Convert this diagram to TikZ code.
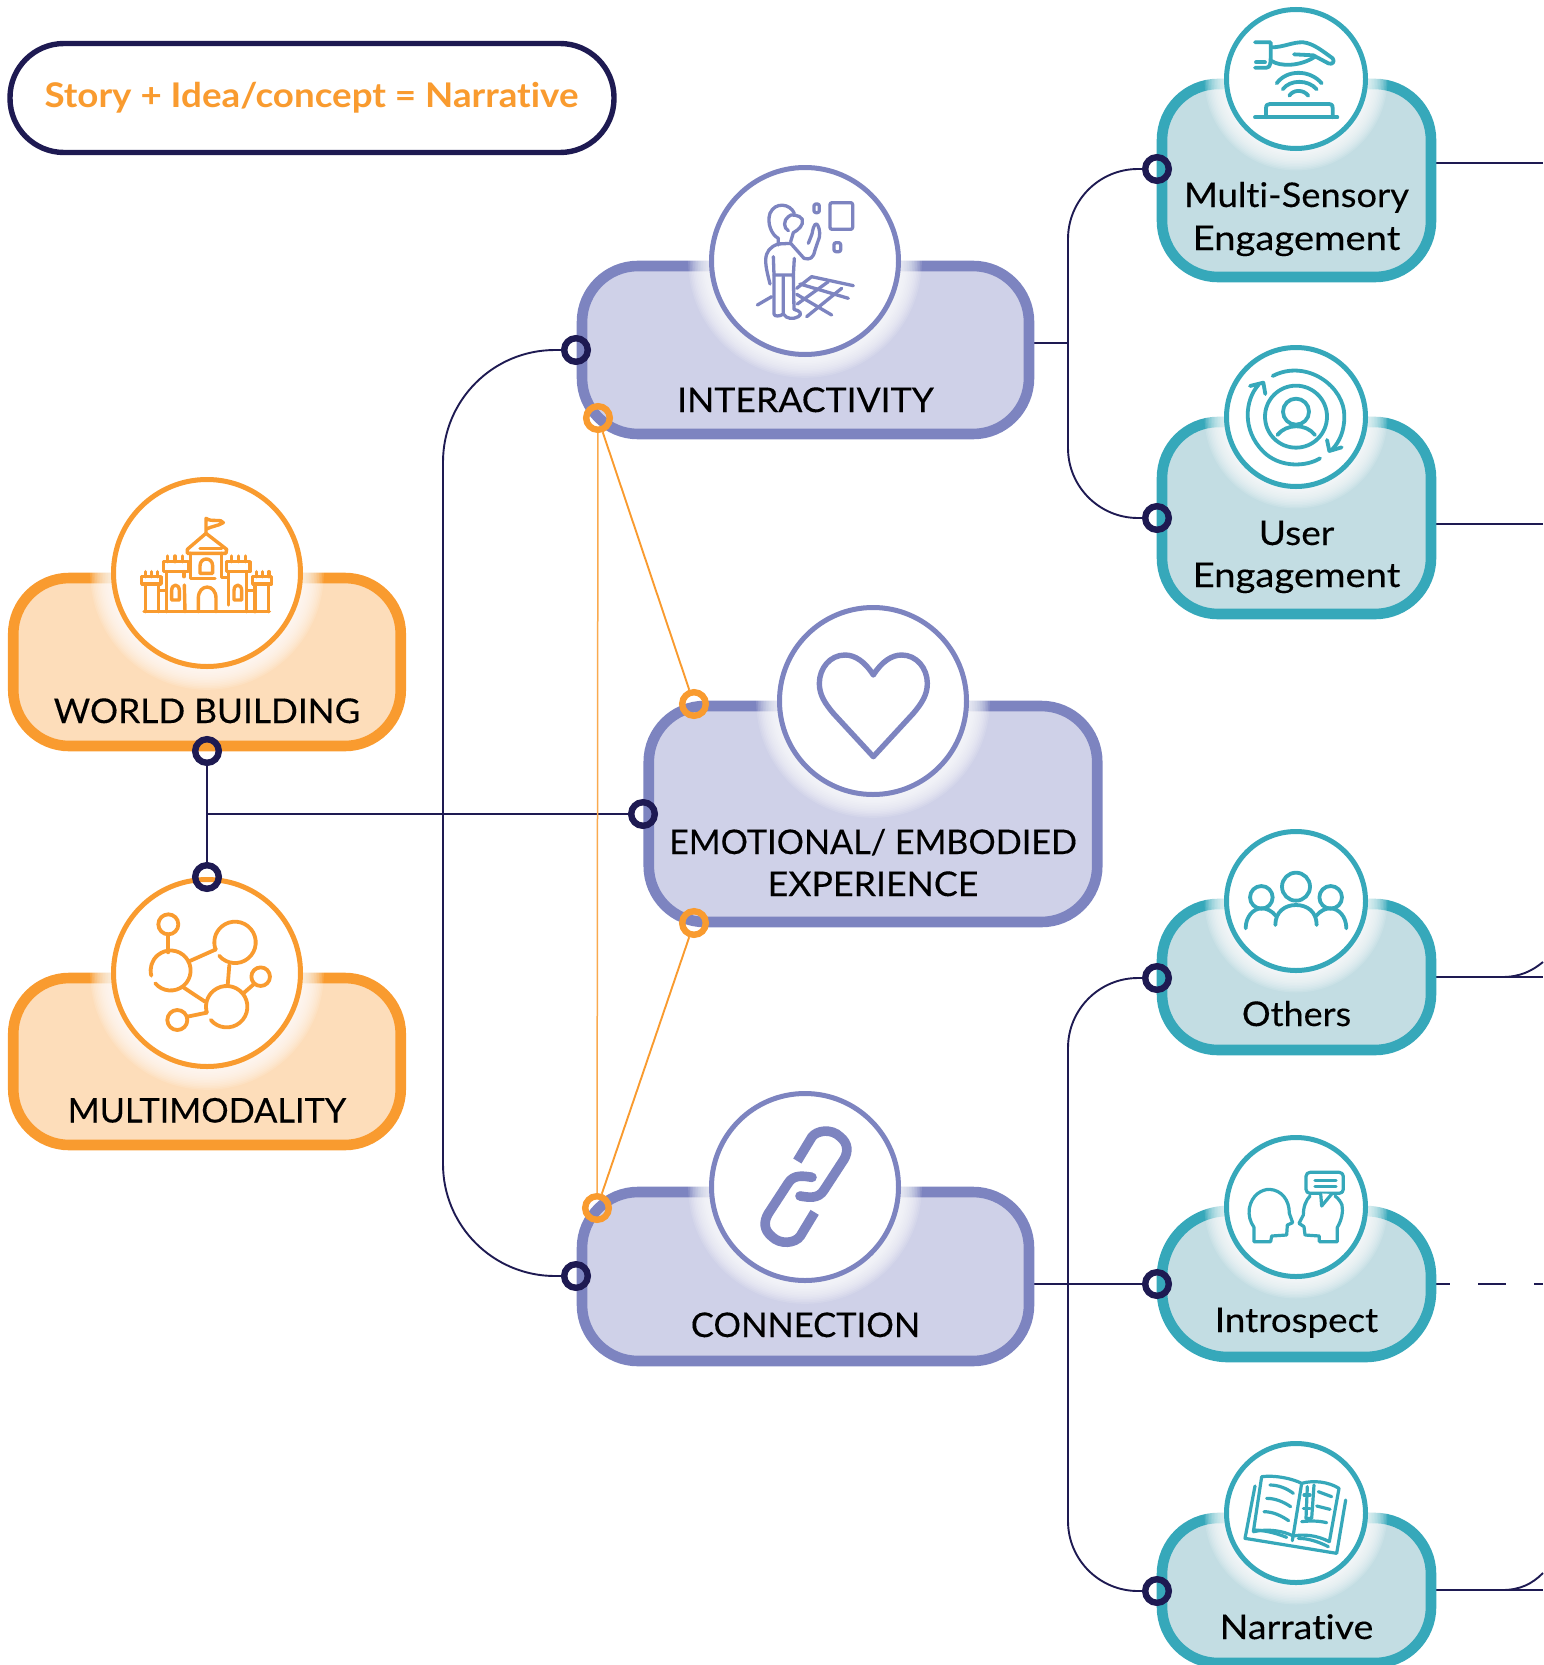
\documentclass[tikz,border=0pt]{standalone}
\usepackage{fontspec}
\usepackage{graphicx}
\setmainfont[Ligatures=NoCommon]{Lato}
\newfontfamily\capsfont[FakeStretch=1.03,FakeBold=0.25,Ligatures=NoCommon]{Lato}
\newfontfamily\lowfont[FakeStretch=1.09,FakeBold=0.25,Ligatures=NoCommon]{Lato}
\newfontfamily\titlefont[FakeStretch=1.08,Ligatures=NoCommon,UprightFont=* Bold]{Lato}
\definecolor{navy}{HTML}{1E1A52}
\definecolor{tealS}{HTML}{36A8BA}
\definecolor{tealF}{HTML}{C3DDE3}
\definecolor{purpS}{HTML}{7D84C0}
\definecolor{purpF}{HTML}{CFD1E8}
\definecolor{oranS}{HTML}{F99B2F}
\definecolor{oranF}{HTML}{FDDDBA}
\pgfdeclarelayer{bg}
\pgfsetlayers{bg,main}
\tikzset{
  boxbase/.style={draw,line width=10.6pt,rounded corners=56pt,inner sep=0pt},
  tealbox/.style={boxbase,draw=tealS,fill=tealF,minimum width=269pt},
  purpbox/.style={boxbase,draw=purpS,fill=purpF},
  oranbox/.style={boxbase,draw=oranS,fill=oranF,minimum width=387.5pt},
  bigcirc/.style={circle,draw,fill=white,line width=5pt,minimum size=187pt,inner sep=0pt},
  smallcirc/.style={circle,draw=tealS,fill=white,line width=5pt,minimum size=139pt,inner sep=0pt},
  ringN/.style={circle,draw=navy,line width=6.4pt,minimum size=23.6pt,inner sep=0pt},
  ringO/.style={circle,draw=oranS,line width=6.4pt,minimum size=23.6pt,inner sep=0pt},
  conn/.style={draw=navy,line width=1.9pt},
  orline/.style={draw=oranS,line width=1.9pt},
  lab/.style={anchor=base,inner sep=0pt,text=black,font=\fontsize{34}{40}\selectfont\lowfont},
  labc/.style={anchor=base,inner sep=0pt,text=black,font=\fontsize{34}{40}\selectfont\capsfont},
  icon/.style={line width=#1,line cap=round,line join=round},
  zoomf/.style 2 args={shift={(#1,#2)},x=0.33333pt,y=-0.33333pt},
}
\begin{document}
\begin{tikzpicture}[x=1pt,y=-1pt]
\useasboundingbox (0,0) rectangle (1543,1665);
% ---------- title
\node[draw=navy,fill=white,line width=5.4pt,rounded corners=54pt,minimum width=604pt,minimum height=109pt,inner sep=0pt] (title) at (312,98) {};
\node[anchor=base,inner sep=0pt,text=oranS,font=\fontsize{34}{40}\selectfont\titlefont] (titlet) at (311.5,107) {Story + Idea/concept = Narrative};
% ---------- boxes
\node[oranbox,minimum height=168pt] (world) at (207,662) {};
\node[oranbox,minimum height=167pt] (multi) at (207,1061.5) {};
\node[purpbox,minimum width=447pt,minimum height=168pt] (inter) at (805.5,350) {};
\node[purpbox,minimum width=448.5pt,minimum height=216pt] (emo) at (873,814) {};
\node[purpbox,minimum width=447pt,minimum height=169pt] (conx) at (805.5,1276.5) {};
\node[tealbox,minimum height=193pt] (msens) at (1296.5,180.5) {};
\node[tealbox,minimum height=192pt] (user) at (1296.5,518) {};
\node[tealbox,minimum height=146pt] (oth) at (1296.5,977) {};
\node[tealbox,minimum height=146pt,rounded corners=66pt] (intro) at (1296.5,1284) {};
\node[tealbox,minimum height=145pt] (narr) at (1296.5,1590.5) {};
% ---------- glows: stacked faint white discs, soft toward the box
\foreach \cx/\cy in {207/573,207/973,805/261,873/701,805/1187}{
  \foreach \k in {13,12,...,1}{
    \fill[white,opacity=0.12] (\cx,\cy) circle[radius=96pt+1.6pt*\k];}}
\foreach \cx/\cy in {1296/79,1296/417,1296/901,1296/1207,1296/1513}{
  \foreach \k in {13,12,...,1}{
    \fill[white,opacity=0.12] (\cx,\cy) circle[radius=72pt+1.5pt*\k];}}
% ---------- circles
\node[bigcirc,draw=oranS] (cworld) at (207,573) {};
\node[bigcirc,draw=oranS] (cmulti) at (207,973) {};
\node[bigcirc,draw=purpS] (cinter) at (805,261) {};
\node[bigcirc,draw=purpS] (cemo) at (873,701) {};
\node[bigcirc,draw=purpS] (cconx) at (805,1187) {};
\node[smallcirc] (cmsens) at (1296,79) {};
\node[smallcirc] (cuser) at (1296,417) {};
\node[smallcirc] (coth) at (1296,901) {};
\node[smallcirc] (cintro) at (1296,1207) {};
\node[smallcirc] (cnarr) at (1296,1513) {};
% ---------- labels
\node[labc] (lworld) at (207,723) {\scalebox{1.007}[1]{WORLD BUILDING}};
\node[labc] (lmulti) at (207,1122.5) {\scalebox{.98}[1]{MULTIMODALITY}};
\node[labc] (linter) at (805.5,412) {\scalebox{1.017}[1]{INTERACTIVITY}};
\node[labc] (lemoa) at (873,854) {\scalebox{.975}[1]{EMOTIONAL/ EMBODIED}};
\node[labc] (lemob) at (873,896) {\scalebox{1.02}[1]{EXPERIENCE}};
\node[labc] (lconx) at (805.5,1337) {\scalebox{.985}[1]{CONNECTION}};
\node[lab] (lmsa) at (1296.5,207) {\scalebox{.98}[1]{Multi-Sensory}};
\node[lab] (lmsb) at (1296.5,250) {\scalebox{1.03}[1]{Engagement}};
\node[lab] (lua) at (1296.5,545) {User};
\node[lab] (lub) at (1296.5,587) {\scalebox{1.03}[1]{Engagement}};
\node[lab] (loth) at (1296.5,1026) {\scalebox{.97}[1]{Others}};
\node[lab] (lintro) at (1296.5,1332) {\scalebox{.99}[1]{Introspect}};
\node[lab] (lnarr) at (1296.5,1639) {\scalebox{1.015}[1]{Narrative}};
% ---------- rings
\node[ringN] (rw) at (207,751) {};
\node[ringN] (rm) at (207,877) {};
\node[ringN] (re) at (643,814) {};
\node[ringN] (ri) at (576,350) {};
\node[ringN] (rc) at (576,1276) {};
\node[ringN] (rms) at (1157,169) {};
\node[ringN] (rus) at (1157,518) {};
\node[ringN] (rot) at (1157,978) {};
\node[ringN] (rin) at (1157,1284) {};
\node[ringN] (rna) at (1157,1591) {};
\node[ringO] (oa) at (598,418) {};
\node[ringO] (ob) at (694,704) {};
\node[ringO] (oc) at (694,923) {};
\node[ringO] (od) at (597,1208) {};
% ---------- connectors
\coordinate (jw) at (207,814);
\coordinate (ji) at (1068,343);
\coordinate (jc) at (1068,1284);
\coordinate (xm) at (1543,163);
\coordinate (xu) at (1543,524);
\coordinate (xo) at (1543,977);
\coordinate (xi) at (1543,1284);
\coordinate (xn) at (1543,1590);
\draw[draw=navy,line width=2.6pt] (rw) -- (rm);
\begin{pgfonlayer}{bg}
\draw[conn] (jw) -- (re);
\draw[conn,rounded corners=112pt] (ri) -- (443,350) -- (443,1276) -- (rc);
\draw[conn,rounded corners=70pt] (rms) -- (1068,169) -- (1068,518) -- (rus);
\draw[conn,rounded corners=70pt] (rot) -- (1068,978) -- (1068,1591) -- (rna);
\draw[conn] (inter.east |- ji) -- (ji);
\draw[conn] (conx.east |- jc) -- (rin);
\draw[conn] (msens.east |- xm) -- (xm);
\draw[conn] (user.east |- xu) -- (xu);
\draw[conn] (oth.east |- xo) -- (xo);
\draw[conn] (narr.east |- xn) -- (xn);
\draw[conn,dash pattern=on 28pt off 28pt,dash phase=14pt] (intro.east) -- (xi);
\draw[conn] (1502,977) .. controls (1520,977) and (1532,971) .. (1543,962);
\draw[conn] (1502,1590) .. controls (1520,1590) and (1532,1584) .. (1543,1573);
\draw[orline,line width=1.5pt,draw=oranS!85] (oa) -- (od);
\draw[orline] (oa) -- (ob);
\draw[orline] (oc) -- (od);
\end{pgfonlayer}
% ---------- icon: hand
\begin{scope}[zoomf={1200}{0},icon=3.8pt,draw=tealS]
\draw (165,127) -- (212,127) -- (212,170) .. controls (212,185) and (212,203) .. (200,203) -- (165,203);
\draw (168,187) -- (195,187);
\draw (215,142) .. controls (250,142) and (280,125) .. (310,127) .. controls (340,130) and (370,155) .. (398,175) .. controls (405,185) and (398,195) .. (385,190) -- (340,166);
\draw (282,163) -- (340,166);
\draw (215,183) .. controls (240,200) and (300,200) .. (345,170);
\draw (230,250) .. controls (260,208) and (330,208) .. (365,250);
\draw (248,268) .. controls (270,238) and (325,238) .. (350,268);
\draw (268,287) .. controls (280,268) and (310,268) .. (325,287);
\draw (165,352) -- (412,352);
\draw (198,352) -- (198,325) .. controls (198,315) and (202,312) .. (210,312) -- (385,312) .. controls (395,312) and (398,315) .. (398,325) -- (398,352);
\end{scope}
% ---------- icon: user
\begin{scope}[zoomf={1200}{330},icon=3.8pt,draw=tealS]
\draw (218,138) .. controls (320,85) and (435,170) .. (433,260) .. controls (433,300) and (420,335) .. (395,360);
\draw (360,385) .. controls (320,410) and (240,415) .. (190,365) .. controls (125,300) and (135,210) .. (175,165);
\draw (288,260) circle[radius=31pt];
\draw (288,245) circle[radius=13pt];
\draw (232,315) .. controls (260,280) and (318,280) .. (345,315);
\draw (150,168) -- (190,158) -- (196,192);
\draw (381,330) -- (388,363) -- (425,352);
\end{scope}
% ---------- icon: person
\begin{scope}[zoomf={700}{160},icon=3.3pt,draw=purpS]
\draw[rounded corners=2pt] (342,132) rectangle (358,158);
\draw[rounded corners=2pt] (390,128) rectangle (458,208);
\draw[rounded corners=2pt] (402,248) rectangle (422,275);
\draw (283,160) .. controls (270,130) and (225,125) .. (210,160) .. controls (200,190) and (215,225) .. (235,235) -- (235,255);
\draw (265,170) .. controls (270,160) and (300,165) .. (307,178) .. controls (312,195) and (295,210) .. (280,218) -- (272,245);
\draw (265,170) .. controls (250,180) and (250,205) .. (265,212);
\draw (235,252) .. controls (210,260) and (198,275) .. (197,300) .. controls (197,325) and (205,350) .. (210,372);
\draw (235,252) -- (272,250);
\draw (220,290) -- (222,345) -- (280,345) -- (283,295);
\draw (272,250) -- (312,295) .. controls (330,300) and (340,295) .. (345,270) -- (358,232) .. controls (362,215) and (355,195) .. (350,192) .. controls (342,190) and (338,210) .. (336,222) -- (325,250);
\draw (222,345) -- (222,462) .. controls (222,470) and (240,470) .. (250,462) -- (250,350);
\draw (280,345) -- (282,448) .. controls (300,452) and (308,462) .. (295,470) .. controls (280,478) and (260,478) .. (250,462);
\draw (172,435) -- (215,410);
\draw (290,385) -- (335,350) -- (460,377);
\draw (300,372) -- (445,415);
\draw (290,403) -- (395,465);
\draw (385,365) -- (292,432);
\draw (425,385) -- (320,470);
\end{scope}
% ---------- icon: castle
\begin{scope}[zoomf={100}{470},icon=3.4pt,draw=oranS]
\draw (132,425) -- (508,425);
\draw (318,187) -- (318,145) .. controls (335,158) and (365,145) .. (370,158) .. controls (355,168) and (335,168) .. (318,178);
\draw (262,238) -- (318,190) -- (380,238) -- (378,250) -- (262,250) -- cycle;
\draw (300,235) -- (365,235);
\draw (272,250) -- (272,325) -- (345,325);
\draw (365,250) -- (365,322) -- (380,322);
\draw (300,310) -- (300,288) .. controls (300,260) and (338,260) .. (338,288) -- (338,310) -- cycle;
\draw (190,275) rectangle (265,305);
\foreach \t in {203,225,248}{\draw (\t,258) -- (\t,275);}
\draw (200,305) -- (200,425);
\draw (252,305) -- (252,320);
\draw (253,345) -- (255,425);
\draw (380,275) rectangle (450,305);
\foreach \t in {395,415,437}{\draw (\t,258) -- (\t,275);}
\draw (385,305) -- (385,405);
\draw (440,305) -- (440,425);
\draw (295,425) -- (295,385) .. controls (295,340) and (348,340) .. (348,385) -- (348,425);
\draw (215,390) -- (215,362) .. controls (215,340) and (238,340) .. (238,362) -- (238,390) -- cycle;
\draw (402,390) -- (402,362) .. controls (402,340) and (425,340) .. (425,362) -- (425,390) -- cycle;
\draw (125,320) rectangle (183,342);
\foreach \t in {137,155,173}{\draw (\t,305) -- (\t,320);}
\draw (137,342) -- (137,425);
\draw (175,342) -- (175,425);
\draw (178,362) -- (197,362);
\draw (458,320) rectangle (515,342);
\foreach \t in {470,488,507}{\draw (\t,305) -- (\t,320);}
\draw (465,342) -- (465,425);
\draw (505,342) -- (505,425);
\draw (442,362) -- (462,362);
\end{scope}
% ---------- icon: network
\begin{scope}[zoomf={100}{870},icon=3.8pt,draw=oranS]
\draw (205,163) circle[radius=10pt];
\draw (482,320) circle[radius=9.3pt];
\draw (232,450) circle[radius=10pt];
\draw (165.9,340) arc[start angle=220,end angle=555,radius=20pt];
\draw (357.5,257) arc[start angle=220,end angle=560,radius=20.7pt];
\draw (332.5,450) arc[start angle=220,end angle=557,radius=20.7pt];
\draw (205,193) -- (205,247);
\draw (265,275) -- (348,238);
\draw (388,285) -- (383,347);
\draw (250,352) -- (315,395);
\draw (262,440) -- (320,428);
\draw (430,370) -- (462,342);
\end{scope}
% ---------- icon: heart
\begin{scope}[zoomf={770}{600},icon=5.4pt,draw=purpS]
\draw (310,225) .. controls (285,185) and (255,165) .. (225,165) .. controls (180,165) and (148,205) .. (148,250) .. controls (148,285) and (165,310) .. (190,340) -- (310,470) -- (430,340) .. controls (455,310) and (472,285) .. (472,250) .. controls (472,205) and (440,165) .. (395,165) .. controls (365,165) and (335,185) .. (310,225) -- cycle;
\end{scope}
% ---------- icon: chain
\begin{scope}[zoomf={700}{1080},draw=purpS,line width=9.6pt]
\draw (292,243) -- (335,172) .. controls (350,150) and (395,145) .. (420,170) .. controls (445,190) and (445,215) .. (432,238) -- (372,330) .. controls (355,358) and (325,352) .. (300,348);
\draw (344,397) -- (301,468) .. controls (286,490) and (241,495) .. (216,470) .. controls (191,450) and (191,425) .. (204,402) -- (264,310) .. controls (281,282) and (311,288) .. (336,292);
\fill[purpS] (300,348) circle[radius=4.8pt];
\fill[purpS] (336,292) circle[radius=4.8pt];
\end{scope}
% ---------- icon: others
\begin{scope}[zoomf={1200}{820},icon=3.8pt,draw=tealS]
\draw (288,200) circle[radius=14pt];
\draw (184,232) circle[radius=11.3pt];
\draw (392,232) circle[radius=11.3pt];
\draw (226,315) .. controls (226,275) and (255,255) .. (288,255) .. controls (321,255) and (350,275) .. (350,315);
\draw (137,325) .. controls (137,290) and (160,265) .. (185,265) .. controls (200,265) and (215,272) .. (228,288);
\draw (439,325) .. controls (439,290) and (416,265) .. (391,265) .. controls (376,265) and (361,272) .. (348,288);
\end{scope}
% ---------- icon: heads
\begin{scope}[zoomf={1200}{1130},icon=3.2pt,draw=tealS]
\draw (162,335) -- (162,292) .. controls (150,275) and (145,255) .. (148,235) .. controls (155,195) and (185,178) .. (208,178) .. controls (245,180) and (268,210) .. (268,250) -- (278,278) -- (262,285) -- (260,315) -- (215,318) -- (212,335) -- cycle;
\draw (330,198) .. controls (318,210) and (310,230) .. (310,255) -- (297,280) -- (312,290) -- (315,315) -- (358,318) -- (358,335) -- (412,335) -- (412,292) .. controls (425,270) and (430,245) .. (426,225) .. controls (422,215) and (415,205) .. (405,198);
\draw[rounded corners=4pt] (318,127) rectangle (430,190);
\draw[fill=white] (362,190) -- (365,228) -- (395,192);
\draw (345,152) -- (408,152);
\draw (345,170) -- (408,170);
\end{scope}
% ---------- icon: book
\begin{scope}[zoomf={1200}{1430},icon=3.2pt,draw=tealS]
\draw (160,305) -- (185,140) .. controls (225,135) and (275,145) .. (305,160) .. controls (340,150) and (385,155) .. (417,175) -- (388,335) .. controls (350,315) and (310,312) .. (280,318) .. controls (250,303) and (205,295) .. (160,305);
\draw (305,160) -- (277,332);
\draw (165,168) -- (135,325) -- (410,370) -- (437,210);
\draw (210,165) .. controls (235,165) and (260,175) .. (280,190);
\draw (200,205) .. controls (225,205) and (250,215) .. (272,230);
\draw (192,245) .. controls (220,245) and (245,258) .. (266,272);
\draw (165,300) .. controls (200,302) and (230,310) .. (260,322);
\draw (295,325) .. controls (325,325) and (355,335) .. (385,350);
\draw (355,185) -- (395,200);
\draw (350,228) -- (390,238);
\draw (305,275) .. controls (330,272) and (355,272) .. (380,278);
\draw (322,170) -- (318,265) -- (335,265) -- (342,165);
\draw (312,195) -- (330,195);
\draw (310,235) -- (330,235);
\end{scope}
\end{tikzpicture}
\end{document}
